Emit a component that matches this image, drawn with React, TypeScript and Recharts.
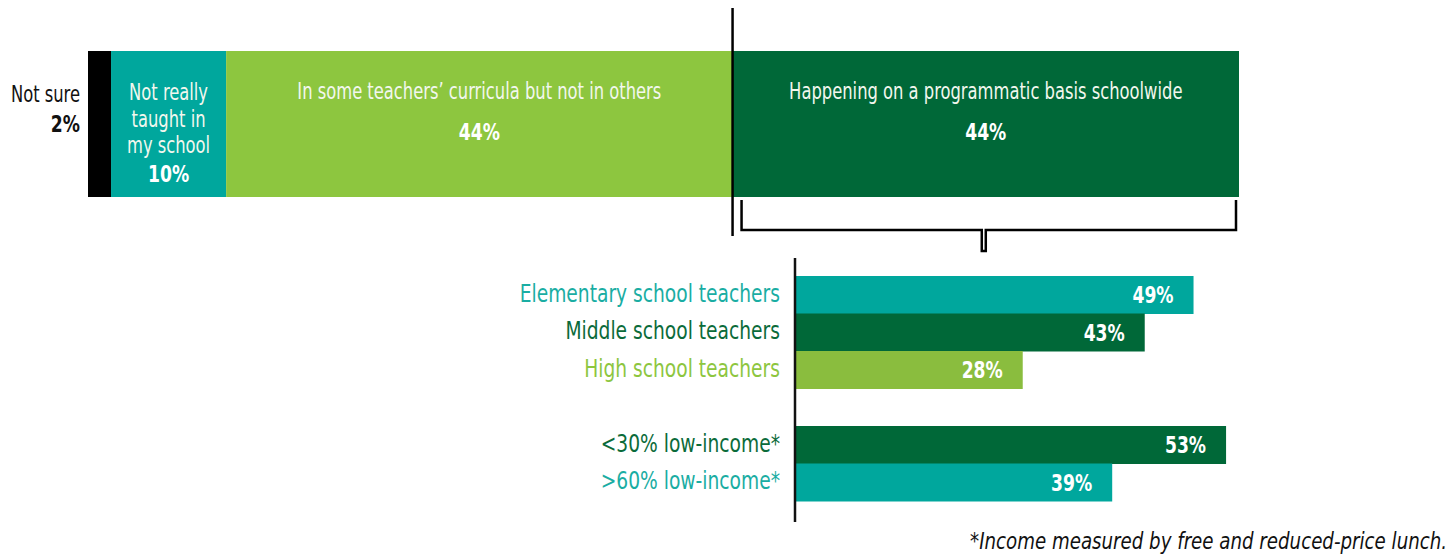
import React from 'react';
import { BarChart, Bar, XAxis, YAxis, LabelList, Cell } from 'recharts';

const FONT = '"Liberation Sans Narrow", "DejaVu Sans Condensed", "Arial Narrow", sans-serif';

// ---- Top stacked bar (all teachers) ----
const topKeys = ['notSure', 'notTaught', 'someTeachers', 'programmatic'];
const topLabels = [
  ['Not sure'],
  ['Not really', 'taught in', 'my school'],
  ['In some teachers\u2019 curricula but not in others'],
  ['Happening on a programmatic basis schoolwide'],
];
const topValues = [2, 10, 44, 44];
const topColors = ['#000000', '#00A79D', '#8DC63F', '#006838'];

// ---- Bottom breakdown of "programmatic basis" ----
const groupLabels = [
  'Elementary school teachers',
  'Middle school teachers',
  'High school teachers',
  '',
  '<30% low-income*',
  '>60% low-income*',
];
const groupValues: (number | null)[] = [49, 43, 28, null, 53, 39];
const groupBarColors = ['#00A79D', '#006838', '#8ABD3E', 'transparent', '#006838', '#00A79D'];
const groupTextColors = ['#1AADA3', '#0B6B3A', '#8DC63F', '#000', '#0B6B3A', '#1AADA3'];

const footnote = '*Income measured by free and reduced-price lunch.';

const topRow = [
  Object.assign({ name: 'All teachers' }, ...topKeys.map((k, i) => ({ [k]: topValues[i] }))),
];
const groupRows = groupLabels.map((name, i) => ({ name, value: groupValues[i] }));

const NText = (p: {
  x: number;
  y: number;
  anchor?: 'start' | 'middle' | 'end';
  size: number;
  bold?: boolean;
  fill: string;
  sx: number;
  children: React.ReactNode;
}) => (
  <text
    transform={`translate(${p.x},${p.y}) scale(${p.sx},1)`}
    x={0}
    y={0}
    textAnchor={p.anchor || 'start'}
    fontSize={p.size}
    fontWeight={p.bold ? 'bold' : 'normal'}
    fill={p.fill}
    fontFamily={FONT}
  >
    {p.children}
  </text>
);

const TXT_SX = 0.79;
const VAL_SX = 0.83;

const makeTopLabel = (segIndex: number) => (props: any) => {
  const x = Number(props.x);
  const y = Number(props.y);
  const w = Number(props.width);
  const h = Number(props.height);
  const lines = topLabels[segIndex];
  const val = `${topValues[segIndex]}%`;
  if (segIndex === 0) {
    return (
      <g>
        <NText x={x - 8} y={y + 51} anchor="end" fill="#111" size={23} sx={TXT_SX}>
          {lines[0]}
        </NText>
        <NText x={x - 8} y={y + 81} anchor="end" fill="#111" size={23} bold sx={VAL_SX}>
          {val}
        </NText>
      </g>
    );
  }
  const cx = x + w / 2;
  if (segIndex === 1) {
    return (
      <g>
        {lines.map((l, i) => (
          <NText key={i} x={cx} y={y + 49 + i * 26.5} anchor="middle" fill="#F2F7EE" size={23} sx={TXT_SX}>
            {l}
          </NText>
        ))}
        <NText x={cx} y={y + 131} anchor="middle" fill="#FFFFFF" size={23} bold sx={VAL_SX}>
          {val}
        </NText>
      </g>
    );
  }
  const extra =
    segIndex === 3 ? (
      <g>
        <line x1={x} x2={x} y1={8} y2={y + h + 39} stroke="#000" strokeWidth={2.5} />
        <path
          d={`M${x + 9},${y + h + 3} V${y + h + 33} H${x + w / 2 - 4} V${y + h + 54} H${x + w / 2} V${y + h + 33} H${x + w - 3} V${y + h + 3}`}
          fill="none"
          stroke="#000"
          strokeWidth={2.5}
        />
      </g>
    ) : null;
  return (
    <g>
      <NText x={cx} y={y + 48} anchor="middle" fill="#F2F7EE" size={23} sx={TXT_SX}>
        {lines[0]}
      </NText>
      <NText x={cx} y={y + 89} anchor="middle" fill="#FFFFFF" size={23} bold sx={VAL_SX}>
        {val}
      </NText>
      {extra}
    </g>
  );
};

const GroupTick = (props: any) => {
  const { x, y, payload, index } = props;
  if (!payload || !payload.value) return null;
  const i = groupLabels.indexOf(payload.value);
  return (
    <g>
      <NText x={Number(x)} y={Number(y) + 7} anchor="end" fill={groupTextColors[i >= 0 ? i : index]} size={25} sx={0.83}>
        {payload.value}
      </NText>
    </g>
  );
};

const GroupValueLabel = (props: any) => {
  const { x, y, width, height, value } = props;
  if (value === null || value === undefined) return null;
  return (
    <NText
      x={Number(x) + Number(width) - 20}
      y={Number(y) + Number(height) / 2 + 8}
      anchor="end"
      fill="#FFFFFF"
      size={23}
      bold
      sx={VAL_SX}
    >
      {`${value}%`}
    </NText>
  );
};

export default function App() {
  return (
    <div
      style={{
        position: 'fixed',
        left: 0,
        top: 0,
        width: 1449,
        height: 556,
        background: '#fff',
        overflow: 'hidden',
        fontFamily: FONT,
      }}
    >
      <div style={{ position: 'absolute', left: 0, top: 0 }}>
        <BarChart
          width={1449}
          height={260}
          data={topRow}
          layout="vertical"
          margin={{ top: 51, right: 210, bottom: 63, left: 88 }}
          barCategoryGap={0}
        >
          <XAxis type="number" domain={[0, 100]} hide />
          <YAxis type="category" dataKey="name" hide />
          {topKeys.map((k, i) => (
            <Bar key={k} dataKey={k} stackId="all" fill={topColors[i]} isAnimationActive={false}>
              <LabelList dataKey={k} content={makeTopLabel(i)} />
            </Bar>
          ))}
        </BarChart>
      </div>
      <div style={{ position: 'absolute', left: 0, top: 0 }}>
        <BarChart
          width={1449}
          height={556}
          data={groupRows}
          layout="vertical"
          margin={{ top: 258, right: 166, bottom: 34, left: 495 }}
          barCategoryGap={0}
        >
          <XAxis type="number" domain={[0, 60]} hide />
          <YAxis
            type="category"
            dataKey="name"
            width={300}
            padding={{ top: 18, bottom: 21 }}
            axisLine={{ stroke: '#111', strokeWidth: 2.5 }}
            tickLine={false}
            tickSize={0}
            tickMargin={15}
            tick={<GroupTick />}
            interval={0}
          />
          <Bar dataKey="value" isAnimationActive={false}>
            {groupRows.map((r, i) => (
              <Cell key={i} fill={groupBarColors[i]} />
            ))}
            <LabelList dataKey="value" content={GroupValueLabel} />
          </Bar>
        </BarChart>
      </div>
      <div
        style={{
          position: 'absolute',
          right: 2,
          top: 528,
          fontSize: 23,
          fontStyle: 'italic',
          color: '#111',
          whiteSpace: 'nowrap',
          lineHeight: '27px',
          transform: 'scaleX(0.88)',
          transformOrigin: 'right center',
        }}
      >
        {footnote}
      </div>
    </div>
  );
}
